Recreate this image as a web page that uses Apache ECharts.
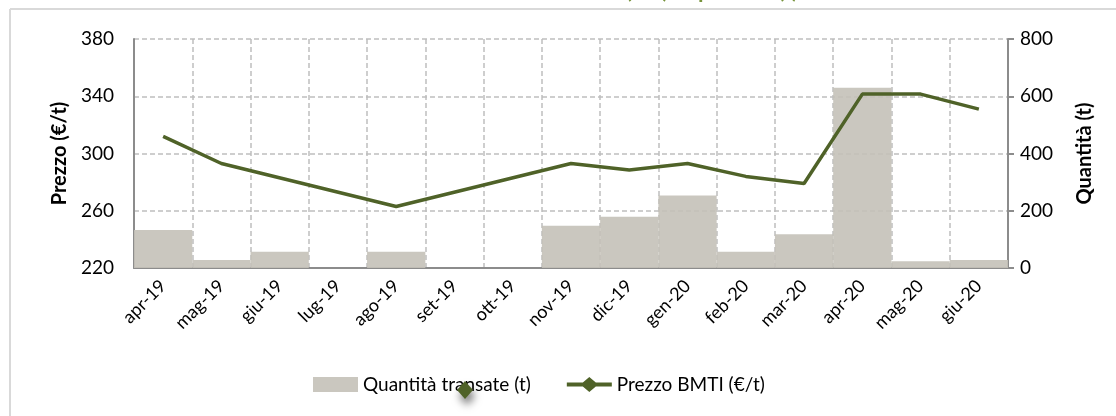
<!DOCTYPE html>
<html>
<head>
<meta charset="utf-8">
<script src="https://cdn.jsdelivr.net/npm/echarts@6/dist/echarts.min.js"></script>
<style>
  html, body { margin: 0; padding: 0; background: #fff; }
  #chart { width: 1116px; height: 416px; }
</style>
</head>
<body>
<div id="chart"></div>
<script>
// mesi
const categories = ['apr-19', 'mag-19', 'giu-19', 'lug-19', 'ago-19', 'set-19', 'ott-19', 'nov-19',
  'dic-19', 'gen-20', 'feb-20', 'mar-20', 'apr-20', 'mag-20', 'giu-20']
// quantità transate (t) - asse destro
const quantita = [133, 28, 57, 0, 57, 0, 0, 148, 179, 253, 57, 118, 630, 24, 28]
// prezzo BMTI (€/t) - asse sinistro, null dove manca la quotazione
const prezzo = [312, 293, null, null, 263, null, null, 293, 288.5, 293, 284, 279, 341.5, 341.5, 331]

const FONT = 'Lato'
const gridColor = '#bfbfbf'
const axisColor = '#8c8c8c'
// icona legenda: linea con rombo al centro
const lineDiamondIcon = 'path://M0,5.5L16,5.5L22.5,0L29,5.5L45,5.5L45,9.5L29,9.5L22.5,15L16,9.5L0,9.5Z'

const myChart = echarts.init(document.getElementById('chart'))
const option = {
  animation: false,
  textStyle: { fontFamily: FONT, color: '#000' },
  grid: { left: 134, right: 108, top: 39, bottom: 148 },
  legend: {
    bottom: 17,
    left: 308,
    itemWidth: 45,
    itemHeight: 15,
    itemGap: 36,
    textStyle: { fontFamily: FONT, fontSize: 19, color: '#000' },
    data: [
      { name: 'Quantità transate (t)', icon: 'rect' },
      { name: 'Prezzo BMTI (€/t)', icon: lineDiamondIcon, itemStyle: { color: '#4f6228' } },
    ],
  },
  xAxis: {
    type: 'category',
    data: categories,
    axisLine: { lineStyle: { color: axisColor, width: 2 } },
    axisTick: { show: false },
    axisLabel: { rotate: 45, fontSize: 18, color: '#000', margin: 15, interval: 0 },
    splitLine: {
      show: true,
      lineStyle: { type: [5, 3], color: gridColor, width: 1.5 },
    },
  },
  yAxis: [
    {
      type: 'value',
      min: 220,
      max: 380,
      interval: 40,
      name: 'Prezzo (€/t)',
      nameLocation: 'middle',
      nameRotate: 90,
      nameGap: 63,
      nameTextStyle: { fontFamily: FONT, fontSize: 20, fontWeight: 'bold', color: '#000' },
      axisLine: { show: true, lineStyle: { color: axisColor, width: 2 } },
      axisTick: { show: false },
      axisLabel: { fontSize: 19, color: '#000', margin: 20 },
      splitLine: {
        show: true,
        lineStyle: { type: [5, 3], color: gridColor, width: 1.5 },
      },
    },
    {
      type: 'value',
      min: 0,
      max: 800,
      interval: 200,
      name: 'Quantità (t)',
      nameLocation: 'middle',
      nameRotate: 90,
      nameGap: 67,
      nameTextStyle: { fontFamily: FONT, fontSize: 20, fontWeight: 'bold', color: '#000' },
      axisLine: { show: true, lineStyle: { color: axisColor, width: 2 } },
      axisTick: { show: true, length: 6, lineStyle: { color: axisColor, width: 2 } },
      axisLabel: { fontSize: 19, color: '#000', margin: 12 },
      splitLine: { show: false },
    },
  ],
  series: [
    {
      name: 'Quantità transate (t)',
      type: 'bar',
      yAxisIndex: 1,
      barCategoryGap: '0%',
      itemStyle: { color: '#c4c1b8', opacity: 0.9 },
      data: quantita,
    },
    {
      name: 'Prezzo BMTI (€/t)',
      type: 'line',
      yAxisIndex: 0,
      connectNulls: true,
      showSymbol: false,
      lineStyle: { color: '#4f6228', width: 3.5 },
      itemStyle: { color: '#4f6228' },
      data: prezzo,
    },
  ],
  graphic: [
    // cornice del grafico
    { type: 'line', shape: { x1: 10, y1: 9, x2: 1116, y2: 9 }, style: { stroke: '#d9d9d9', lineWidth: 2 } },
    { type: 'line', shape: { x1: 10, y1: 9, x2: 10, y2: 416 }, style: { stroke: '#d9d9d9', lineWidth: 2 } },
    // titolo tagliato in alto
    {
      type: 'text',
      right: 318,
      top: -20,
      style: {
        text: 'Prezzo BMTI (€/t) e quantità (t)',
        font: 'bold 22px Lato',
        fill: '#77933c',
      },
    },
    // marcatore rimasto sopra la legenda
    {
      type: 'polygon',
      shape: { points: [[465, 381], [473, 390], [465, 399], [457, 390]] },
      style: {
        fill: '#4f6228',
        shadowBlur: 8,
        shadowOffsetX: 2,
        shadowOffsetY: 6,
        shadowColor: 'rgba(0,0,0,0.55)',
      },
      z: 100,
    },
  ],
}
myChart.setOption(option)
</script>
</body>
</html>
